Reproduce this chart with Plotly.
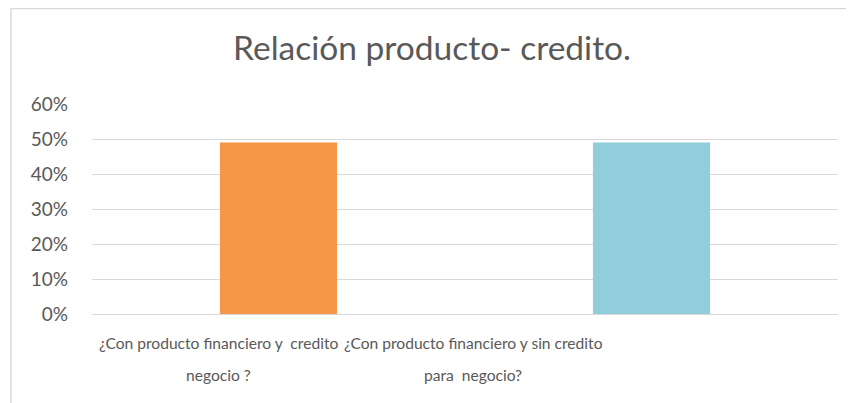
import plotly.graph_objects as go

# Chart data
categories = ["¿Con producto financiero y  credito<br>negocio ?",
              "¿Con producto financiero y sin credito<br>para  negocio?"]
values = [0.49, 0.49]
bar_colors = ["#F79646", "#92CDDC"]
y_ticks = [0, 0.1, 0.2, 0.3, 0.4, 0.5, 0.6]
label_pos = [0.169, 0.511]   # Excel wraps labels off-centre

FONT = "Lato, Carlito, Calibri, sans-serif"
GREY = "#595959"

fig = go.Figure(go.Bar(
    x=[0, 1],
    y=values,
    marker=dict(color=bar_colors, line=dict(width=0)),
    width=0.314,
    hoverinfo="skip",
))

# category labels as annotations, one per wrapped line (Excel line spacing is wide)
for pos, text in zip(label_pos, categories):
    for i, line in enumerate(text.split("<br>")):
        fig.add_annotation(
            x=pos, y=0, xref="paper", yref="paper",
            yshift=-29 - 32 * i, yanchor="middle", xanchor="center",
            text=line, showarrow=False,
            font=dict(family=FONT, size=15.6, color=GREY),
        )

fig.update_layout(
    title=dict(text="Relación producto- credito.", x=0.4965, xanchor="center",
               y=0.90, yanchor="middle", yref="container",
               font=dict(family=FONT, size=33.5, color=GREY)),
    xaxis=dict(range=[-0.5, 1.5], showticklabels=False, showgrid=False,
               zeroline=False, showline=False, fixedrange=True),
    yaxis=dict(range=[0, 0.6], tickvals=y_ticks, tickformat=".0%",
               showgrid=True, gridcolor="#D9D9D9", gridwidth=1.3,
               zeroline=True, zerolinecolor="#D9D9D9", zerolinewidth=1.3,
               showline=False, ticks="", ticklabelstandoff=23,
               tickfont=dict(family=FONT, size=19, color=GREY)),
    shapes=[dict(type="rect", xref="paper", yref="paper",
                 x0=-0.1086, x1=1.05, y0=-0.5, y1=1.4548,
                 line=dict(color="#D9D9D9", width=1.5), layer="below")],
    width=854, height=403,
    margin=dict(l=84, r=24, t=96, b=97, autoexpand=False),
    plot_bgcolor="white",
    paper_bgcolor="white",
    showlegend=False,
)

fig.write_html("out.html")
